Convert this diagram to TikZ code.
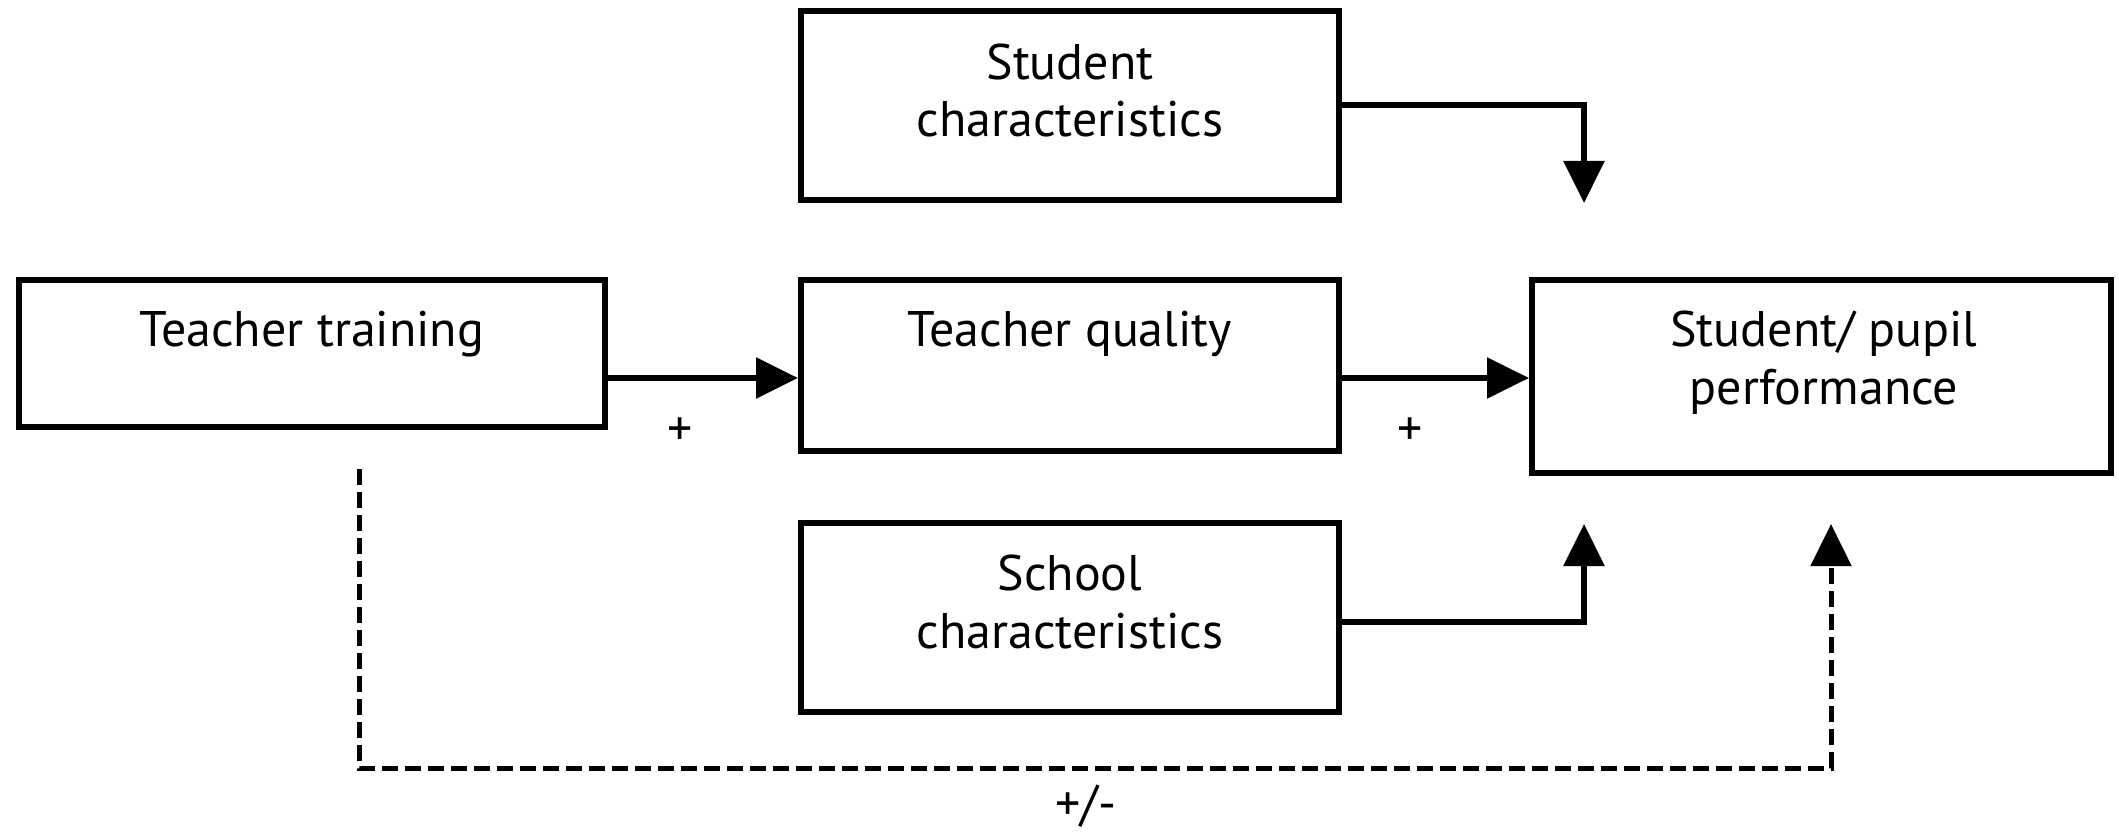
\documentclass[tikz,border=0pt]{standalone}
\usepackage{fontspec}
\setmainfont{PT Sans}
\usetikzlibrary{arrows.meta}
\begin{document}
\begin{tikzpicture}[x=0.5pt,y=-0.5pt,
  box/.style={draw=black,line width=3pt,fill=white,inner sep=0pt},
  lbl/.style={font=\fontsize{25}{29}\selectfont,anchor=base,inner sep=0pt,align=center},
  conn/.style={line width=3pt,-{Triangle[length=21pt,width=20pt]}},
  dconn/.style={line width=2.5pt,dash pattern=on 8pt off 3.5pt,-{Triangle[length=21pt,width=20pt]}},
  sign/.style={font=\fontsize{25}{29}\selectfont,inner sep=0pt}]
\useasboundingbox (0,0) rectangle (2119,833);
\fill[white] (0,0) rectangle (2119,833);
% boxes
\node[box,minimum width=293pt,minimum height=73.5pt] (tt) at (312,353.5) {};
\node[box,minimum width=269pt,minimum height=85.5pt] (tq) at (1070,365.5) {};
\node[box,minimum width=269pt,minimum height=94.5pt] (sc) at (1070,105.5) {};
\node[box,minimum width=269pt,minimum height=94.5pt] (sch) at (1070,617.5) {};
\node[box,minimum width=289.5pt,minimum height=96.5pt] (spp) at (1821.5,376.5) {};
% labels
\node[lbl] (ttl) at (312,347) {Teacher training};
\node[lbl] (tql) at (1070,347) {Teacher quality};
\node[lbl] (scl1) at (1070,80) {Student};
\node[lbl] (scl2) at (1070,137) {characteristics};
\node[lbl] (schl1) at (1070,590) {School};
\node[lbl] (schl2) at (1070,648) {characteristics};
\node[lbl] (sppl1) at (1824,347) {Student/ pupil};
\node[lbl] (sppl2) at (1824,405) {performance};
% coordinates
\coordinate (rowA) at (0,378);
\coordinate (scrow) at (0,105);
\coordinate (schrow) at (0,622);
\coordinate (sctip) at (1584,203);
\coordinate (schtip) at (1584,524);
\coordinate (dstart) at (359,469);
\coordinate (dbot) at (0,768);
\coordinate (dtip) at (1831,524);
% connectors
\draw[conn] (tt.east |- rowA) -- (tq.west |- rowA);
\draw[conn] (tq.east |- rowA) -- (spp.west |- rowA);
\draw[conn] (sc.east |- scrow) -| (sctip);
\draw[conn] (sch.east |- schrow) -| (schtip);
\draw[dconn] (dstart) -- (dstart |- dbot) -| (dtip);
% signs
\node[sign] (p1) at (680,432) {+};
\node[sign] (p2) at (1410,432) {+};
\node[sign] (p3) at (1086,806) {+/-};
\end{tikzpicture}
\end{document}
